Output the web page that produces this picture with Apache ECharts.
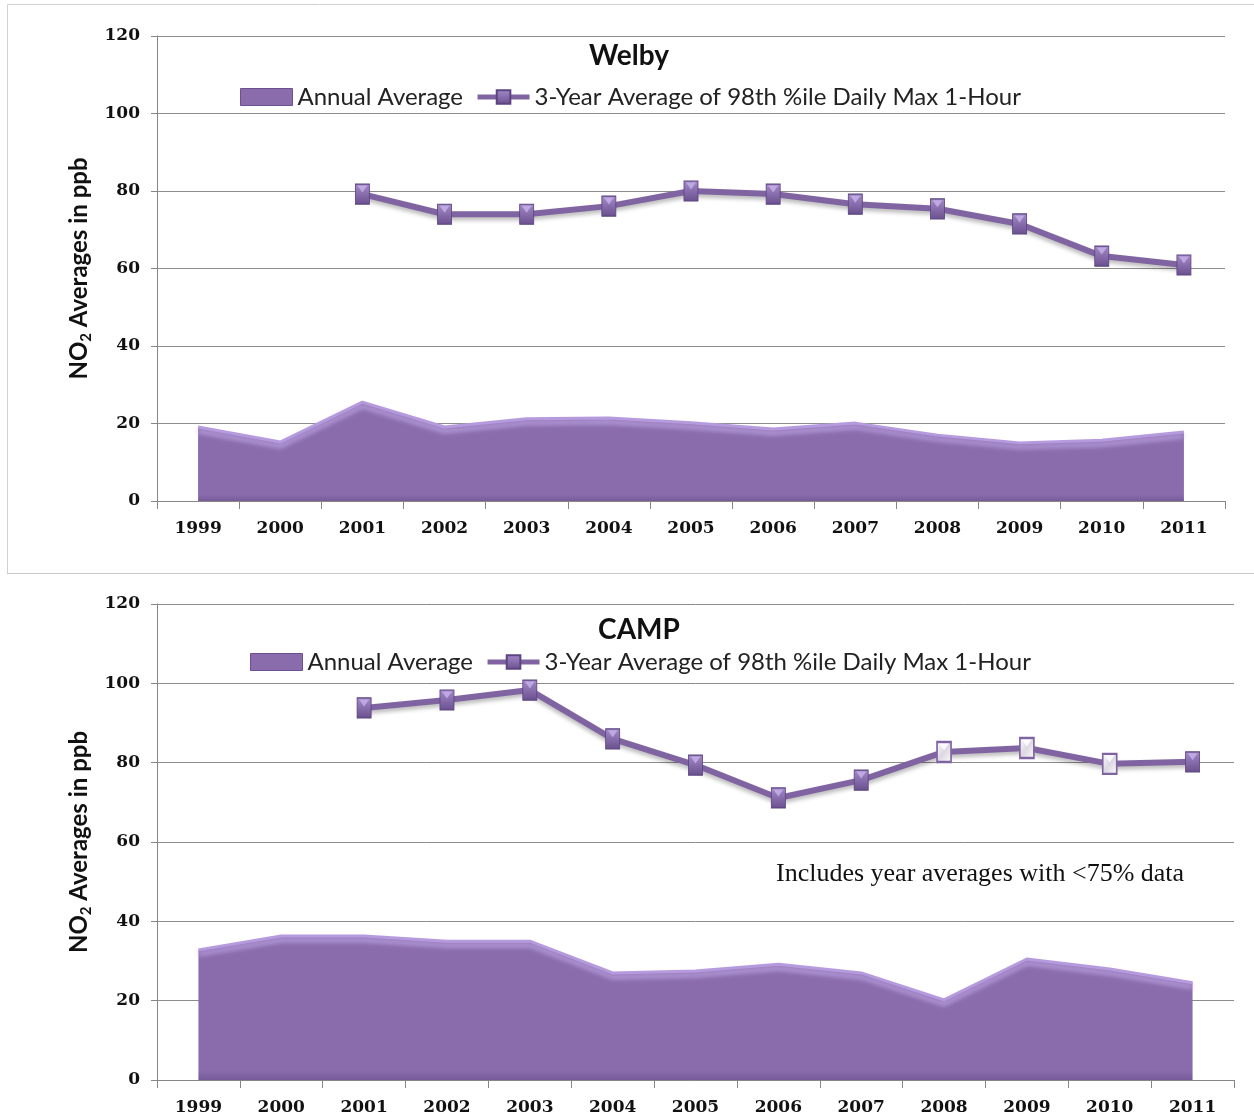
<!DOCTYPE html>
<html>
<head>
<meta charset="utf-8">
<script src="https://cdn.jsdelivr.net/npm/echarts@6/dist/echarts.min.js"></script>
<style>
  html, body { margin: 0; padding: 0; background: #ffffff; }
  #main { width: 1254px; height: 1120px; }
</style>
</head>
<body>
<div id="main"></div>
<script>
// Years shared by both monitoring sites
const years = ['1999', '2000', '2001', '2002', '2003', '2004', '2005', '2006', '2007', '2008', '2009', '2010', '2011'];

// Welby site (ppb)
const welbyAnnual = [19.1, 15.2, 25.5, 19.1, 21.2, 21.4, 20.2, 18.6, 20.1, 17.0, 15.0, 15.7, 17.8];
const welbyThreeYear = [null, null, 79.2, 74.0, 74.0, 76.1, 80.0, 79.2, 76.6, 75.4, 71.5, 63.2, 60.9];

// CAMP site (ppb)
const campAnnual = [32.8, 36.3, 36.3, 35.0, 35.0, 27.0, 27.5, 29.2, 27.0, 20.2, 30.5, 28.0, 24.5];
const campThreeYear = [null, null, 93.8, 95.8, 98.3, 86.0, 79.4, 71.1, 75.6, 82.7, 83.7, 79.7, 80.2];
// 3-year values built from years with incomplete data (open markers)
const campIncompleteYears = ['2008', '2009', '2010'];

// Value axis
const yMin = 0, yMax = 120, yStep = 20;

const annualName = 'Annual Average';
const threeYearName = '3-Year Average of 98th %ile Daily Max 1-Hour';
const siteNames = ['Welby', 'CAMP'];
const campNote = 'Includes year averages with <75% data';

const PURPLE = '#8064a2';
const AREA_FILL = '#8a6cad';

const chart = echarts.init(document.getElementById('main'), null, { renderer: 'canvas' });

const panels = [
  { top: 36, height: 465, right: 29, annual: welbyAnnual, threeYear: welbyThreeYear, open: [],
    titleLeft: 624, titleTop: 37, legendLeft: 235, legendTop: 80 },
  { top: 604, height: 476, right: 20, annual: campAnnual, threeYear: campThreeYear, open: campIncompleteYears,
    titleLeft: 634, titleTop: 611, legendLeft: 245, legendTop: 645 }
];

const squareFill = new echarts.graphic.LinearGradient(0, 0, 0, 1, [
  { offset: 0, color: '#a68bcb' },
  { offset: 1, color: '#6a4f8e' }
]);
const openFill = new echarts.graphic.LinearGradient(0, 0, 1, 1, [
  { offset: 0, color: '#ffffff' },
  { offset: 0.5, color: '#dcd8e2' },
  { offset: 1, color: '#ffffff' }
]);
const areaFill = new echarts.graphic.LinearGradient(0, 0, 0, 1, [
  { offset: 0, color: AREA_FILL },
  { offset: 0.93, color: AREA_FILL },
  { offset: 1, color: '#775b99' }
]);

const grids = [], xAxes = [], yAxes = [], series = [], titles = [], legends = [];

panels.forEach((p, i) => {
  grids.push({ left: 157, right: p.right, top: p.top, height: p.height, containLabel: false });

  xAxes.push({
    type: 'category', gridIndex: i, data: years, boundaryGap: true,
    axisLine: { lineStyle: { color: '#868686', width: 1 } },
    axisTick: { show: true, length: 8, alignWithLabel: false, lineStyle: { color: '#868686' } },
    axisLabel: { fontFamily: 'DejaVu Serif', fontWeight: 'bold', fontSize: 17, color: '#111', margin: 19 },
    splitLine: { show: false }
  });

  yAxes.push({
    type: 'value', gridIndex: i, min: yMin, max: yMax, interval: yStep,
    axisLine: { show: true, lineStyle: { color: '#868686', width: 1 } },
    axisTick: { show: true, length: 6, lineStyle: { color: '#868686' } },
    axisLabel: { fontFamily: 'DejaVu Serif', fontWeight: 'bold', fontSize: 17, color: '#111', margin: 17 },
    splitLine: { show: true, lineStyle: { color: '#8c8c8c', width: 1 } },
    name: '{a|NO}{s|2}{a| Averages in ppb}',
    nameLocation: 'middle', nameRotate: 90, nameGap: 60,
    nameTextStyle: {
      rich: {
        a: { fontFamily: 'Lato', fontWeight: 'bold', fontSize: 24, color: '#111', lineHeight: 28 },
        s: { fontFamily: 'Lato', fontWeight: 'bold', fontSize: 15, color: '#111', lineHeight: 15, verticalAlign: 'bottom' }
      }
    }
  });

  // Annual average drawn as a filled area with a soft highlight under its top edge
  series.push({
    name: annualName, type: 'line', xAxisIndex: i, yAxisIndex: i,
    data: p.annual, symbol: 'none', z: 2,
    lineStyle: { color: '#b69ade', width: 3, shadowColor: 'rgba(205,182,242,0.95)', shadowBlur: 5, shadowOffsetY: 4 },
    areaStyle: { color: areaFill, opacity: 1 },
    itemStyle: { color: AREA_FILL },
    silent: true
  });

  // 3-year design value line with square markers
  const lineData = p.threeYear.map((v, k) => {
    if (v === null) return null;
    if (p.open.indexOf(years[k]) >= 0) {
      return { value: v, itemStyle: { color: openFill, borderColor: PURPLE, borderWidth: 2 } };
    }
    return v;
  });
  series.push({
    name: threeYearName, type: 'line', xAxisIndex: i, yAxisIndex: i,
    data: lineData, connectNulls: false, z: 3,
    symbol: 'rect', symbolSize: [14, 20], showSymbol: true, showAllSymbol: true,
    lineStyle: { color: PURPLE, width: 6, shadowColor: 'rgba(0,0,0,0.28)', shadowBlur: 4, shadowOffsetY: 3 },
    itemStyle: { color: squareFill, borderColor: '#5b4480', borderWidth: 1 },
    silent: true
  });

  // Bevel highlight on each marker
  const bevelData = p.threeYear.map((v, k) => {
    if (v === null) return null;
    if (p.open.indexOf(years[k]) >= 0) {
      return { value: [years[k], v], itemStyle: { color: '#ffffff' } };
    }
    return [years[k], v];
  });
  series.push({
    name: 'bevel', type: 'scatter', xAxisIndex: i, yAxisIndex: i,
    data: bevelData, z: 4, silent: true,
    symbol: 'triangle', symbolRotate: 180, symbolSize: [10, 7], symbolOffset: [0, -5],
    itemStyle: { color: '#c8b3ea' }
  });

  titles.push({
    text: siteNames[i], left: p.titleLeft, top: p.titleTop, textAlign: 'center',
    textStyle: { fontFamily: 'Lato', fontWeight: 'bold', fontSize: 28, color: '#111' }
  });

  legends.push({
    left: p.legendLeft, top: p.legendTop,
    itemWidth: 52, itemHeight: 17, itemGap: 12,
    selectedMode: false,
    textStyle: { fontFamily: 'Lato', fontSize: 24, color: '#222' },
    lineStyle: { width: 5, shadowBlur: 0 },
    data: [
      { name: annualName, icon: 'rect', itemStyle: { color: AREA_FILL, borderColor: '#6a5290', borderWidth: 1 } },
      { name: threeYearName }
    ]
  });
});

chart.setOption({
  animation: false,
  backgroundColor: '#ffffff',
  title: titles,
  legend: legends,
  grid: grids,
  xAxis: xAxes,
  yAxis: yAxes,
  series: series,
  graphic: [
    { type: 'rect', shape: { x: 7.5, y: 4.5, width: 1250, height: 569 }, style: { fill: 'none', stroke: '#d0d0d0', lineWidth: 1 }, silent: true },
    { type: 'line', shape: { x1: 7, y1: 573.5, x2: 1254, y2: 573.5 }, style: { stroke: '#c8c8c8', lineWidth: 1 }, silent: true },
    { type: 'text', left: 776, top: 861, style: { text: campNote, fontFamily: 'Liberation Serif', fontSize: 26, fill: '#111' }, silent: true }
  ]
});
</script>
</body>
</html>
